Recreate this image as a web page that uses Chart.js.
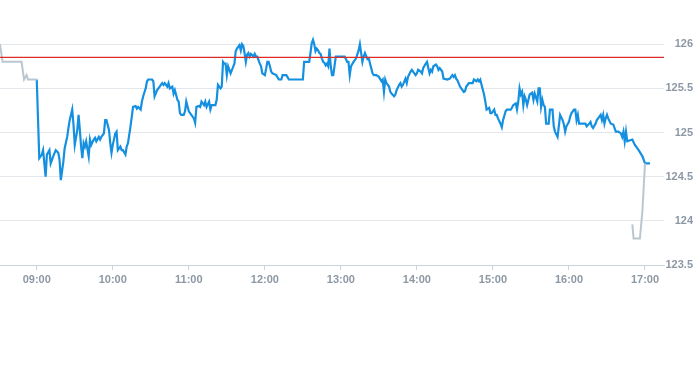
<!DOCTYPE html>
<html>
<head>
<meta charset="utf-8">
<script src="https://cdn.jsdelivr.net/npm/chart.js@4.4.1/dist/chart.umd.min.js"></script>
<style>
  body { margin: 0; background: #fff; }
  #wrap { width: 693px; height: 365px; position: relative; }
</style>
</head>
<body>
<div id="wrap"><canvas id="myChart"></canvas></div>
<script>
// intraday prices [time, price]
var preMarket = [
    ['08:31', 126.00], ['08:33', 125.80], ['08:48', 125.80], ['08:50', 125.60],
    ['08:52', 125.65], ['08:53', 125.60], ['09:00', 125.60]
];

var session = [
    ['09:00',125.60],['09:02',124.71],['09:04',124.75],['09:05',124.80],['09:07',124.50],['09:08',124.75],
    ['09:10',124.80],['09:11',124.65],['09:13',124.73],['09:15',124.80],['09:17',124.77],['09:18',124.69],
    ['09:19',124.46],['09:21',124.67],['09:22',124.82],['09:24',124.95],['09:25',125.05],['09:26',125.14],
    ['09:28',125.26],['09:29',125.09],['09:30',124.86],['09:32',125.03],['09:33',125.20],['09:34',125.03],
    ['09:35',124.84],['09:36',124.71],['09:37',124.88],['09:38',124.84],['09:39',124.90],['09:41',124.73],
    ['09:42',124.92],['09:43',124.86],['09:45',124.92],['09:46',124.94],['09:47',124.90],['09:49',124.95],
    ['09:50',124.92],['09:51',124.95],['09:53',124.99],['09:54',125.14],['09:55',125.14],['09:57',125.03],
    ['09:58',124.88],['09:59',124.77],['10:00',124.86],['10:02',124.99],['10:03',125.01],['10:04',124.80],
    ['10:06',124.84],['10:07',124.80],['10:08',124.80],['10:10',124.75],['10:11',124.84],['10:12',124.88],
    ['10:14',125.07],['10:15',125.18],['10:16',125.29],['10:18',125.30],['10:19',125.27],['10:20',125.29],
    ['10:22',125.26],['10:23',125.35],['10:24',125.41],['10:26',125.50],['10:27',125.58],['10:28',125.60],
    ['10:31',125.60],['10:32',125.58],['10:33',125.41],['10:35',125.48],['10:36',125.50],['10:37',125.52],
    ['10:39',125.56],['10:40',125.54],['10:41',125.56],['10:43',125.52],['10:44',125.56],['10:45',125.50],
    ['10:47',125.52],['10:48',125.44],['10:49',125.48],['10:51',125.37],['10:52',125.35],['10:53',125.22],
    ['10:54',125.20],['10:56',125.20],['10:57',125.24],['10:58',125.35],['11:00',125.24],['11:01',125.22],
    ['11:02',125.20],['11:04',125.16],['11:05',125.11],['11:06',125.29],['11:08',125.30],['11:09',125.29],
    ['11:10',125.35],['11:12',125.31],['11:13',125.35],['11:14',125.29],['11:16',125.35],['11:17',125.26],
    ['11:18',125.31],['11:21',125.31],['11:22',125.37],['11:23',125.54],['11:25',125.50],['11:26',125.52],
    ['11:27',125.80],['11:28',125.78],['11:29',125.78],['11:30',125.65],['11:31',125.75],['11:33',125.67],
    ['11:36',125.78],['11:37',125.92],['11:38',125.95],['11:40',125.99],['11:41',125.93],['11:42',126.00],
    ['11:43',125.98],['11:44',125.90],['11:45',125.80],['11:46',125.88],['11:47',125.90],['11:48',125.86],
    ['11:49',125.89],['11:51',125.86],['11:52',125.89],['11:53',125.86],['11:54',125.86],['11:56',125.78],
    ['11:57',125.75],['11:58',125.67],['12:00',125.65],['12:01',125.72],['12:02',125.80],['12:03',125.80],
    ['12:04',125.75],['12:05',125.69],['12:06',125.67],['12:09',125.65],['12:11',125.60],['12:13',125.60],
    ['12:14',125.65],['12:17',125.65],['12:19',125.60],['12:30',125.60],['12:31',125.80],['12:35',125.80],
    ['12:36',125.90],['12:37',126.01],['12:38',126.05],['12:39',126.00],['12:40',125.92],['12:41',125.95],
    ['12:42',125.93],['12:43',125.90],['12:44',125.89],['12:45',125.84],['12:46',125.80],['12:47',125.79],
    ['12:48',125.76],['12:49',125.78],['12:50',125.75],['12:51',125.95],['12:52',125.75],['12:53',125.65],
    ['12:54',125.65],['12:56',125.86],['13:03',125.86],['13:05',125.80],['13:06',125.80],['13:07',125.65],
    ['13:08',125.75],['13:10',125.80],['13:12',125.84],['13:14',125.93],['13:15',126.00],['13:17',125.80],
    ['13:18',125.86],['13:19',125.90],['13:21',125.83],['13:22',125.84],['13:23',125.78],['13:25',125.67],
    ['13:26',125.65],['13:28',125.65],['13:30',125.63],['13:32',125.58],['13:33',125.60],['13:34',125.46],
    ['13:35',125.60],['13:36',125.56],['13:38',125.52],['13:39',125.46],['13:40',125.44],['13:42',125.41],
    ['13:43',125.43],['13:44',125.48],['13:46',125.54],['13:47',125.56],['13:48',125.52],['13:49',125.54],
    ['13:51',125.61],['13:52',125.56],['13:53',125.63],['13:55',125.69],['13:56',125.71],['13:57',125.69],
    ['13:59',125.65],['14:00',125.67],['14:01',125.71],['14:03',125.69],['14:04',125.67],['14:05',125.73],
    ['14:07',125.78],['14:08',125.80],['14:09',125.73],['14:10',125.67],['14:11',125.71],['14:12',125.69],
    ['14:13',125.75],['14:15',125.77],['14:16',125.75],['14:17',125.71],['14:18',125.73],['14:20',125.69],
    ['14:21',125.61],['14:24',125.60],['14:26',125.61],['14:28',125.65],['14:29',125.63],['14:30',125.65],
    ['14:31',125.61],['14:32',125.59],['14:34',125.52],['14:35',125.50],['14:37',125.46],['14:38',125.47],
    ['14:39',125.52],['14:41',125.56],['14:44',125.56],['14:45',125.60],['14:47',125.58],['14:48',125.60],
    ['14:49',125.58],['14:50',125.60],['14:51',125.54],['14:53',125.43],['14:54',125.35],['14:55',125.26],
    ['14:57',125.28],['14:58',125.22],['14:59',125.22],['15:01',125.26],['15:02',125.20],['15:03',125.20],
    ['15:04',125.16],['15:06',125.10],['15:07',125.06],['15:08',125.14],['15:10',125.24],['15:11',125.26],
    ['15:14',125.26],['15:15',125.28],['15:16',125.31],['15:18',125.33],['15:19',125.26],['15:20',125.35],
    ['15:21',125.50],['15:22',125.43],['15:23',125.46],['15:24',125.31],['15:25',125.41],['15:26',125.37],
    ['15:27',125.31],['15:28',125.37],['15:29',125.43],['15:31',125.45],['15:32',125.37],['15:33',125.44],
    ['15:35',125.35],['15:36',125.50],['15:37',125.50],['15:38',125.29],['15:39',125.37],['15:40',125.31],
    ['15:41',125.29],['15:42',125.10],['15:44',125.10],['15:45',125.26],['15:47',125.26],['15:48',125.07],
    ['15:49',125.01],['15:51',124.95],['15:52',125.07],['15:53',125.20],['15:55',125.14],['15:56',125.09],
    ['15:57',125.01],['15:58',125.07],['16:00',125.12],['16:01',125.18],['16:02',125.22],['16:04',125.26],
    ['16:05',125.26],['16:06',125.14],['16:07',125.20],['16:08',125.10],['16:13',125.10],['16:14',125.07],
    ['16:16',125.10],['16:17',125.12],['16:18',125.07],['16:19',125.05],['16:21',125.10],['16:22',125.14],
    ['16:23',125.16],['16:25',125.20],['16:26',125.14],['16:27',125.20],['16:28',125.10],['16:29',125.16],
    ['16:30',125.20],['16:31',125.16],['16:33',125.10],['16:35',125.09],['16:37',125.01],['16:39',125.01],
    ['16:41',124.99],['16:42',124.95],['16:43',125.01],['16:44',124.90],['16:45',125.01],['16:46',124.90],
    ['16:50',124.92],['16:52',124.86],['16:55',124.80],['16:58',124.73],['17:00',124.65],['17:04',124.65]
];

var afterMarket = [
    ['16:50', 123.96], ['16:51', 123.80], ['16:56', 123.80], ['16:58', 124.12], ['17:00', 124.65]
];

var previousClose = 125.85;
var hourTicks = ['09:00', '10:00', '11:00', '12:00', '13:00', '14:00', '15:00', '16:00', '17:00'];
var priceTicks = [123.5, 124, 124.5, 125, 125.5, 126];
var timeRange = ['08:31', '17:15'];
var priceRange = [123.5, 126.5];

function toMin(s) {
    var p = s.split(':');
    return parseInt(p[0], 10) * 60 + parseInt(p[1], 10);
}
function toLabel(m) {
    var h = Math.floor(m / 60), mm = m % 60;
    return (h < 10 ? '0' : '') + h + ':' + (mm < 10 ? '0' : '') + mm;
}
function pts(list) {
    return list.map(function (d) { return { x: toMin(d[0]), y: d[1] }; });
}
// no extra room for half-labels at the edges
function noPad(s) {
    s.paddingTop = 0;
    s.paddingBottom = 0;
    s.paddingLeft = 0;
    s.paddingRight = 0;
}

var ctx = document.getElementById('myChart').getContext('2d');
var myChart = new Chart(ctx, {
    type: 'line',
    data: {
        datasets: [{
            label: 'previous close',
            data: [{ x: toMin(timeRange[0]), y: previousClose }, { x: toMin(timeRange[1]), y: previousClose }],
            borderColor: '#dd2c2c',
            borderWidth: 1.2,
            pointRadius: 0
        }, {
            label: 'pre',
            data: pts(preMarket),
            borderColor: '#bcc6cf',
            borderWidth: 2,
            pointRadius: 0
        }, {
            label: 'after',
            data: pts(afterMarket),
            borderColor: '#bcc6cf',
            borderWidth: 2,
            pointRadius: 0
        }, {
            label: 'price',
            data: pts(session),
            borderColor: '#1590e0',
            borderWidth: 2.2,
            pointRadius: 0
        }]
    },
    options: {
        responsive: true,
        maintainAspectRatio: false,
        animation: false,
        layout: { padding: 0 },
        plugins: {
            legend: { display: false },
            tooltip: { enabled: false }
        },
        elements: { line: { tension: 0 } },
        scales: {
            x: {
                type: 'linear',
                min: toMin(timeRange[0]),
                max: toMin(timeRange[1]),
                afterBuildTicks: function (s) {
                    s.ticks = hourTicks.map(function (t) { return { value: toMin(t) }; });
                },
                afterFit: function (s) { s.height = 100; noPad(s); },
                grid: {
                    drawOnChartArea: false,
                    drawTicks: true,
                    tickLength: 5,
                    color: '#ccd3db'
                },
                border: { color: '#ccd3db' },
                ticks: {
                    autoSkip: false,
                    maxRotation: 0,
                    padding: 3,
                    color: '#8d98a5',
                    font: { family: 'Liberation Sans', size: 11, weight: 'bold' },
                    callback: function (v) { return toLabel(v); }
                }
            },
            y: {
                position: 'right',
                min: priceRange[0],
                max: priceRange[1],
                afterBuildTicks: function (s) {
                    s.ticks = priceTicks.map(function (v) { return { value: v }; });
                },
                afterFit: function (s) { s.width = 29; noPad(s); },
                grid: {
                    drawTicks: false,
                    color: '#e3e6ea'
                },
                border: { display: false },
                ticks: {
                    crossAlign: 'far',
                    padding: 0,
                    color: '#8d98a5',
                    font: { family: 'Liberation Sans', size: 11, weight: 'bold' },
                    callback: function (v) { return String(v); }
                }
            }
        }
    }
});
</script>
</body>
</html>
